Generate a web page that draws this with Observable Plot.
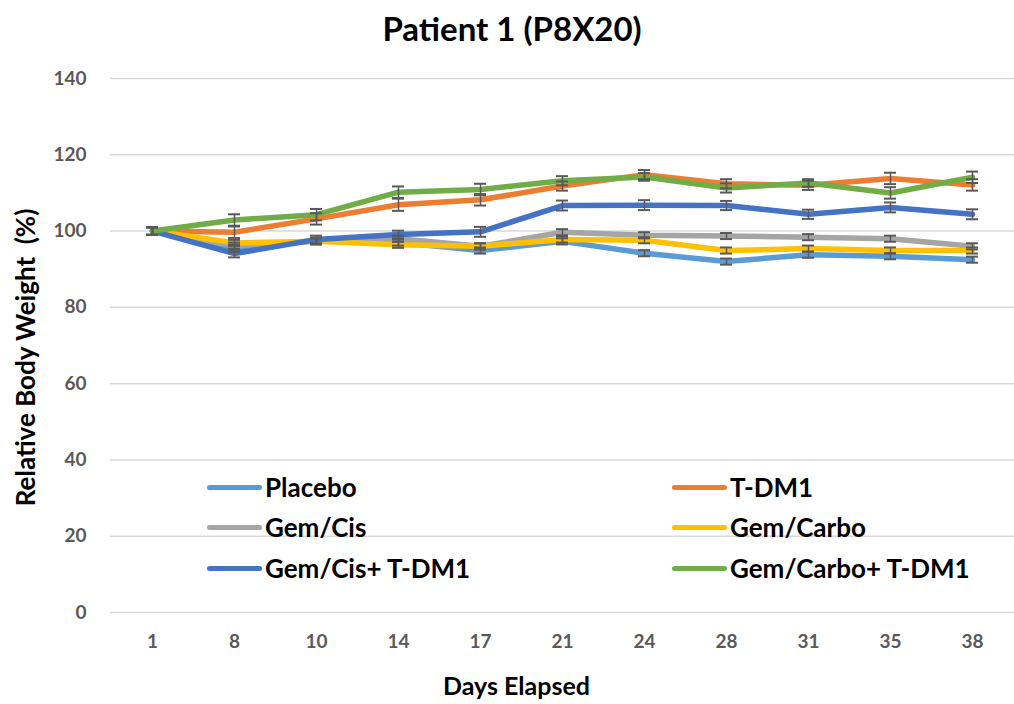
<!DOCTYPE html>
<html>
<head>
<meta charset="utf-8">
<script src="https://cdn.jsdelivr.net/npm/d3@7"></script>
<script src="https://cdn.jsdelivr.net/npm/@observablehq/plot@0.6"></script>
<style>
  html, body { margin: 0; padding: 0; background: #fff; }
  body { width: 1014px; height: 704px; position: relative; overflow: hidden; font-family: Lato, "Open Sans", sans-serif; }
  #title { height: 55px; line-height: 56px; text-align: center; font-weight: bold; font-size: 33px; color: #000; padding-left: 10px; }
  #legend { position: absolute; left: 0; top: 0; width: 1014px; height: 704px; pointer-events: none; }
  .item { position: absolute; display: flex; align-items: center; font-weight: bold; font-size: 26px; color: #000; }
  .swatch { width: 55px; height: 5px; border-radius: 3px; margin-right: 3px; }
</style>
</head>
<body>
<div id="title">Patient 1 (P8X20)</div>
<div id="chart"></div>
<div id="legend"></div>
<script>
const days = ["1", "8", "10", "14", "17", "21", "24", "28", "31", "35", "38"];
const seriesNames = ["Placebo", "T-DM1", "Gem/Cis", "Gem/Carbo", "Gem/Cis+ T-DM1", "Gem/Carbo+ T-DM1"];
const seriesColors = ["#5B9BD5", "#ED7D31", "#A5A5A5", "#FFC000", "#4472C4", "#70AD47"];

const placebo      = [100, 95.5, 97.5, 97.0, 94.9, 97.3, 94.2, 92.0, 93.8, 93.4, 92.5];
const tdm1         = [100, 99.7, 103.2, 106.9, 108.2, 111.8, 114.8, 112.4, 112.0, 113.8, 112.1];
const gemCis       = [100, 96.2, 97.3, 98.0, 96.0, 99.7, 98.9, 98.7, 98.4, 98.0, 96.0];
const gemCarbo     = [100, 96.9, 97.3, 96.4, 96.0, 97.8, 97.6, 94.9, 95.4, 94.9, 94.9];
const gemCisTdm1   = [100, 94.1, 97.8, 99.1, 99.8, 106.7, 106.8, 106.7, 104.4, 106.2, 104.4];
const gemCarboTdm1 = [100, 102.9, 104.3, 110.2, 110.9, 113.2, 114.2, 111.3, 112.6, 110.0, 114.1];

const errPlacebo      = [1.0, 1.0, 0.8, 0.8, 0.8, 0.8, 0.8, 0.8, 0.8, 0.8, 0.8];
const errTdm1         = [1.0, 1.5, 1.5, 1.6, 1.5, 1.2, 1.2, 1.2, 1.2, 1.5, 1.5];
const errGemCis       = [1.0, 0.8, 0.8, 0.8, 0.8, 0.8, 0.8, 0.8, 0.8, 0.8, 0.8];
const errGemCarbo     = [1.0, 0.8, 0.8, 0.8, 0.8, 0.8, 0.8, 0.8, 0.8, 0.8, 0.8];
const errGemCisTdm1   = [1.0, 1.0, 1.0, 1.0, 1.3, 1.3, 1.3, 1.2, 1.2, 1.3, 1.3];
const errGemCarboTdm1 = [1.0, 1.5, 1.5, 1.5, 1.5, 1.2, 1.0, 1.2, 1.0, 1.5, 1.5];

const yTicks = [0, 20, 40, 60, 80, 100, 120, 140];

const values = [placebo, tdm1, gemCis, gemCarbo, gemCisTdm1, gemCarboTdm1];
const errs = [errPlacebo, errTdm1, errGemCis, errGemCarbo, errGemCisTdm1, errGemCarboTdm1];
const rows = [];
seriesNames.forEach((s, i) => days.forEach((d, j) => rows.push({series: s, day: d, value: values[i][j], err: errs[i][j]})));

const chart = Plot.plot({
  width: 1014,
  height: 649,
  marginTop: 23,
  marginBottom: 92,
  marginLeft: 110,
  marginRight: 0,
  style: {fontFamily: "Lato, 'Open Sans', sans-serif", fontWeight: "bold", fontSize: "19px", background: "#fff"},
  x: {type: "band", domain: days, padding: 0},
  y: {domain: [0, 140]},
  color: {domain: seriesNames, range: seriesColors},
  marks: [
    Plot.ruleY(yTicks, {stroke: "#d9d9d9", strokeWidth: 1.5}),
    Plot.axisY({ticks: yTicks, tickSize: 0, tickPadding: 24, label: null, fill: "#595959", fontSize: 19}),
    Plot.axisX({tickSize: 0, tickPadding: 22, label: null, fill: "#595959", fontSize: 19}),
    Plot.line(rows, {x: "day", y: "value", z: "series", stroke: "series", strokeWidth: 5.5, strokeLinejoin: "round", strokeLinecap: "round"}),
    Plot.ruleX(rows, {x: "day", y1: d => d.value - d.err, y2: d => d.value + d.err, stroke: "#595959", strokeWidth: 1.5}),
    Plot.tickY(rows, {x: "day", y: d => d.value - d.err, stroke: "#595959", strokeWidth: 2, insetLeft: 35, insetRight: 35}),
    Plot.tickY(rows, {x: "day", y: d => d.value + d.err, stroke: "#595959", strokeWidth: 2, insetLeft: 35, insetRight: 35}),
    Plot.text(["Relative Body Weight  (%)"], {frameAnchor: "left", textAnchor: "middle", rotate: -90, dx: -84, dy: 12, fontSize: 26, fontWeight: "bold", fill: "#000"}),
    Plot.text(["Days Elapsed"], {frameAnchor: "bottom", textAnchor: "middle", dx: -46, dy: 82, fontSize: 25, fontWeight: "bold", fill: "#000"})
  ]
});
document.getElementById("chart").appendChild(chart);

const legendPos = [[207, 487], [672, 487], [207, 527], [672, 527], [207, 568], [672, 568]];
const legend = document.getElementById("legend");
seriesNames.forEach((s, i) => {
  const it = document.createElement("div");
  it.className = "item";
  it.style.left = legendPos[i][0] + "px";
  it.style.top = (legendPos[i][1] - 15) + "px";
  it.style.height = "30px";
  const sw = document.createElement("div");
  sw.className = "swatch";
  sw.style.background = seriesColors[i];
  const t = document.createElement("span");
  t.textContent = s;
  it.appendChild(sw); it.appendChild(t);
  legend.appendChild(it);
});
</script>
</body>
</html>
